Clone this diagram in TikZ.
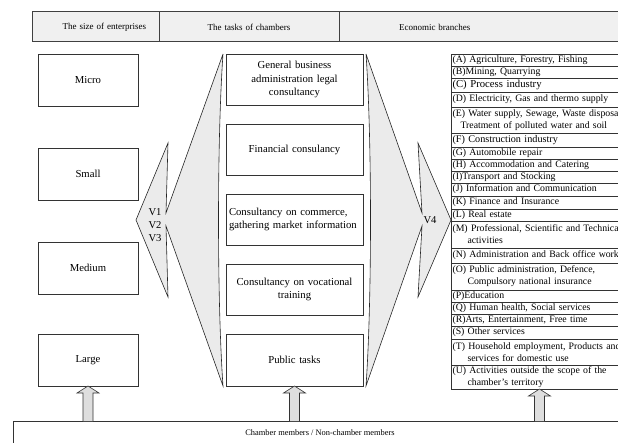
\documentclass[tikz,border=0pt]{standalone}
\usepackage{fontspec}
\setmainfont{Liberation Serif}
\usetikzlibrary{positioning, calc}
\tikzstyle{headcell} = [rectangle, draw=black!75, line width=1pt, fill=black!6, outer sep=0pt, minimum height=30pt, inner ysep=0pt, font=\fontsize{9}{11}\selectfont]
\tikzstyle{sizebox} = [rectangle, draw=black!80, line width=0.7pt, minimum width=100pt, minimum height=52pt, outer sep=0pt, font=\fontsize{10.7}{13.5}\selectfont]
\tikzstyle{taskbox} = [rectangle, draw=black!80, line width=0.7pt, minimum height=51pt, text width=131pt, inner xsep=3pt, align=center, outer sep=0pt, font=\fontsize{10.7}{13.5}\selectfont]
\tikzstyle{branch} = [rectangle, draw=black!80, line width=0.6pt, text width=230pt, inner xsep=1.5pt, inner ysep=0pt, minimum height=12pt, align=left, outer sep=0pt, font=\fontsize{9.8}{12}\selectfont]
\tikzstyle{wedge} = [draw=black!85, line width=0.6pt, fill=black!8, line join=miter]
\tikzstyle{vlabel} = [align=center, inner sep=0pt, font=\fontsize{10.6}{13}\selectfont]
\tikzstyle{uparrow} = [draw=black!80, line width=0.6pt, fill=black!13, to path={let \p1=(\tikztostart), \p2=(\tikztotarget) in (\x1-5pt,\y1) -- (\x1-5pt,\y2-7pt) -- (\x1-11pt,\y2-7pt) -- (\x1,\y2) -- (\x1+11pt,\y2-7pt) -- (\x1+5pt,\y2-7pt) -- (\x1+5pt,\y1)}]

\begin{document}
\begin{tikzpicture}[x=1pt, y=-1pt, node distance=19pt]
    \useasboundingbox (0,0) rectangle (618,443);
    \clip (0,0) rectangle (618,443);

    % column heads
    \node (hsize) [headcell, anchor=north west, text width=101pt, inner xsep=13pt, align=right] at (32,12) {The size of enterprises};
    \node (htasks) [headcell, right=0pt of hsize, text width=172pt, inner xsep=4pt, align=center] {The tasks of chambers};
    \node (hbranches) [headcell, right=0pt of htasks, text width=280pt, inner xsep=60pt, align=left] {Economic branches};

    % the two wedges
    \draw [wedge] (223,54) -- (166,213) -- (168,143) -- (136,220) -- (168,297) -- (166,226) -- (223,386) .. controls (217,300) and (217,140) .. (223,54);
    \draw [wedge] (366,54) -- (422,213) -- (418,143) -- (451,220) -- (418,297) -- (422,226) -- (366,386) .. controls (372,300) and (372,140) .. (366,54);

    \node (micro) [sizebox, anchor=north west] at (38,54) {Micro};
    \node (small) [sizebox, below=42pt of micro] {Small};
    \node (medium) [sizebox, below=42pt of small] {Medium};
    \node (large) [sizebox, below=40pt of medium] {Large};

    \node (general) [taskbox, anchor=north west] at (226,54) {General business\\administration legal\\consultancy};
    \node (financial) [taskbox, below=19pt of general] {Financial consulancy};
    \node (commerce) [taskbox, below=19pt of financial, align=left] {Consultancy on commerce,\\gathering market information};
    \node (vocational) [taskbox, below=19pt of commerce] {Consultancy on vocational\\training};
    \node (public) [taskbox, below=19pt of vocational, minimum height=52pt] {Public tasks};

    \node (vleft) [vlabel] at (155,225) {V1\\V2\\V3};
    \node (vright) [vlabel] at (430,220) {V4};

    % economic branches
    \node (brA) [branch, anchor=north west] at (451,54) {(A) Agriculture, Forestry, Fishing};
    \node (brB) [branch, below=0pt of brA] {(B)Mining, Quarrying};
    \node (brC) [branch, below=0pt of brB, minimum height=14pt, font=\fontsize{10.7}{13}\selectfont] {(C) Process industry};
    \node (brD) [branch, below=0pt of brC, minimum height=15pt] {(D) Electricity, Gas and thermo supply};
    \node (brE) [branch, below=0pt of brD, minimum height=26pt] {(E) Water supply, Sewage, Waste disposal,\\\hspace*{8pt}Treatment of polluted water and soil};
    \node (brF) [branch, below=0pt of brE, minimum height=14pt, font=\fontsize{10.2}{12}\selectfont] {(F) Construction industry};
    \node (brG) [branch, below=0pt of brF] {(G) Automobile repair};
    \node (brH) [branch, below=0pt of brG] {(H) Accommodation and Catering};
    \node (brI) [branch, below=0pt of brH] {(I)Transport and Stocking};
    \node (brJ) [branch, below=0pt of brI, minimum height=13pt] {(J) Information and Communication};
    \node (brK) [branch, below=0pt of brJ, minimum height=13pt] {(K) Finance and Insurance};
    \node (brL) [branch, below=0pt of brK] {(L) Real estate};
    \node (brM) [branch, below=0pt of brL, minimum height=27pt] {(M) Professional, Scientific and Technical\\\hspace*{15pt}activities};
    \node (brN) [branch, below=0pt of brM, minimum height=15pt] {(N) Administration and Back office work};
    \node (brO) [branch, below=0pt of brN, minimum height=27pt] {(O) Public administration, Defence,\\\hspace*{15pt}Compulsory national insurance};
    \node (brP) [branch, below=0pt of brO] {(P)Education};
    \node (brQ) [branch, below=0pt of brP] {(Q) Human health, Social services};
    \node (brR) [branch, below=0pt of brQ] {(R)Arts, Entertainment, Free time};
    \node (brS) [branch, below=0pt of brR, minimum height=13pt] {(S) Other services};
    \node (brT) [branch, below=0pt of brS, minimum height=26pt] {(T) Household employment, Products and\\\hspace*{15pt}services for domestic use};
    \node (brU) [branch, below=0pt of brT, minimum height=24pt] {(U) Activities outside the scope of the\\\hspace*{15pt}chamber’s territory};

    \node (members) [rectangle, draw=black!80, line width=0.7pt, anchor=north, minimum width=614pt, text height=11pt, text depth=20pt, inner ysep=3pt, outer sep=0pt, font=\fontsize{8.4}{10}\selectfont] at (320,421) {Chamber members / Non-chamber members};

    \coordinate (uarrowtop) at ([xshift=88.5pt]brU.south west);
    \draw [uparrow] (members.north -| large.south) to (large.south);
    \draw [uparrow] (members.north -| public.south) to (public.south);
    \draw [uparrow] (uarrowtop |- members.north) to (uarrowtop);
\end{tikzpicture}
\end{document}
